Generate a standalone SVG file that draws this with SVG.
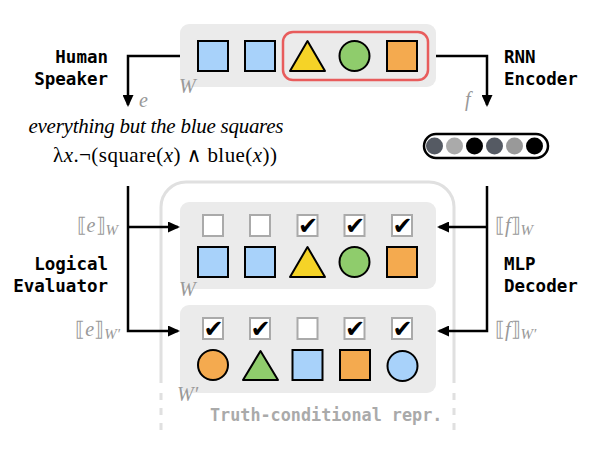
<svg xmlns="http://www.w3.org/2000/svg" width="598" height="460" viewBox="0 0 598 460">
<style>
.panel{fill:#ebebeb}
.sh{stroke:#000;stroke-width:2}
.blue{fill:#a8d2fa}.yellow{fill:#f5d327}.green{fill:#8fcc6c}.orange{fill:#f4aa4f}
.cb{fill:#fff;stroke:#aaa;stroke-width:2}
.chk{font-family:"DejaVu Sans",sans-serif;font-size:24px;fill:#000;text-anchor:middle}
.lbl{font-family:"DejaVu Sans Mono",monospace;font-weight:bold;font-size:17.5px;fill:#000}
.math{font-family:"Liberation Serif","DejaVu Serif",serif;fill:#999;font-size:20px}
.it{font-style:italic}
.conn{fill:none;stroke:#000;stroke-width:2.5}
</style>
<defs>
<marker id="arr" viewBox="0 0 12 11" markerWidth="12" markerHeight="11" refX="10" refY="5.5" orient="auto" markerUnits="userSpaceOnUse">
<path d="M0,0 L12,5.5 L0,11 z" fill="#000"/>
</marker>
</defs>

<g id="frame">
<path d="M161,383 V207 A25,25 0 0 1 186,182 H429 A25,25 0 0 1 454,207 V383" fill="none" stroke="#e0e0e0" stroke-width="3"/>
<path d="M161,393 V433 M454,393 V433" fill="none" stroke="#e0e0e0" stroke-width="3" stroke-dasharray="7 8"/>
<text x="210" y="421" font-family="DejaVu Sans Mono,monospace" font-weight="bold" font-size="16.8" fill="#aaa">Truth-conditional repr.</text>
</g>

<g id="world-top">
<rect class="panel" x="180" y="24" width="256" height="63" rx="9"/>
<rect x="198" y="41" width="30" height="30" class="sh blue"/>
<rect x="245" y="41" width="30" height="30" class="sh blue"/>
<rect x="283" y="32" width="145" height="48" rx="10" fill="none" stroke="#e85c5c" stroke-width="2.5"/>
<polygon points="307.5,41 290,71 325,71" class="sh yellow" stroke-linejoin="round"/>
<circle cx="354.5" cy="56" r="15" class="sh green"/>
<rect x="387" y="41" width="30" height="30" class="sh orange"/>
<text x="179" y="93" class="math it" font-size="21">W</text>
</g>

<g id="human-speaker">
<text class="lbl" text-anchor="end"><tspan x="108" y="63">Human</tspan><tspan x="108" y="85">Speaker</tspan></text>
</g>

<g id="rnn-encoder">
<text class="lbl"><tspan x="504" y="63">RNN</tspan><tspan x="504" y="85">Encoder</tspan></text>
</g>

<g id="utterance">
<text x="156" y="133" font-family="Liberation Serif,serif" font-style="italic" font-size="21" fill="#000" text-anchor="middle" textLength="255" lengthAdjust="spacing">everything but the blue squares</text>
<text x="165" y="162" font-family="Liberation Serif,serif" font-size="21" fill="#000" text-anchor="middle" textLength="224" lengthAdjust="spacing">λ<tspan font-style="italic">x</tspan>.¬(square(<tspan font-style="italic">x</tspan>) <tspan font-family="DejaVu Serif,serif" font-size="20">∧</tspan> blue(<tspan font-style="italic">x</tspan>))</text>
</g>

<g id="vector">
<rect x="424" y="134" width="124" height="24" rx="12" fill="#fff" stroke="#000" stroke-width="2.5"/>
<circle cx="434.5" cy="146" r="8.5" fill="#555a63"/>
<circle cx="454.5" cy="146" r="8.5" fill="#aaaaaa"/>
<circle cx="474.5" cy="146" r="8.5" fill="#000"/>
<circle cx="494.5" cy="146" r="8.5" fill="#555a63"/>
<circle cx="514.5" cy="146" r="8.5" fill="#999999"/>
<circle cx="534.5" cy="146" r="8.5" fill="#000"/>
</g>

<g id="world-W">
<rect class="panel" x="180" y="202" width="256" height="87" rx="9"/>
<rect class="cb" x="203" y="215" width="20" height="21"/>
<rect class="cb" x="250" y="215" width="20" height="21"/>
<rect class="cb" x="297.5" y="215" width="20" height="21"/>
<text class="chk" x="308" y="234">✔</text>
<rect class="cb" x="344.5" y="215" width="20" height="21"/>
<text class="chk" x="355" y="234">✔</text>
<rect class="cb" x="392" y="215" width="20" height="21"/>
<text class="chk" x="402.5" y="234">✔</text>
<rect x="198" y="247" width="30" height="30" class="sh blue"/>
<rect x="245" y="247" width="30" height="30" class="sh blue"/>
<polygon points="307.5,247 290,277 325,277" class="sh yellow" stroke-linejoin="round"/>
<circle cx="354.5" cy="262" r="15" class="sh green"/>
<rect x="387" y="247" width="30" height="30" class="sh orange"/>
<text x="179" y="296" class="math it" font-size="21">W</text>
</g>

<g id="world-W-prime">
<rect class="panel" x="180" y="305" width="256" height="88" rx="9"/>
<rect class="cb" x="203" y="318" width="20" height="21"/>
<text class="chk" x="213.5" y="337">✔</text>
<rect class="cb" x="250" y="318" width="20" height="21"/>
<text class="chk" x="260.5" y="337">✔</text>
<rect class="cb" x="297.5" y="318" width="20" height="21"/>
<rect class="cb" x="344.5" y="318" width="20" height="21"/>
<text class="chk" x="355" y="337">✔</text>
<rect class="cb" x="392" y="318" width="20" height="21"/>
<text class="chk" x="402.5" y="337">✔</text>
<circle cx="213" cy="365" r="15" class="sh orange"/>
<polygon points="260.5,351 243,380 278,380" class="sh green" stroke-linejoin="round"/>
<rect x="292.5" y="350" width="30" height="30" class="sh blue"/>
<rect x="340" y="350" width="30" height="30" class="sh orange"/>
<circle cx="402.5" cy="366" r="15" class="sh blue"/>
<text x="177" y="401" class="math it" font-size="21">W′</text>
</g>

<g id="logical-evaluator">
<text class="lbl" text-anchor="end"><tspan x="108" y="270">Logical</tspan><tspan x="108" y="292">Evaluator</tspan></text>
</g>

<g id="mlp-decoder">
<text class="lbl"><tspan x="504" y="270">MLP</tspan><tspan x="504" y="292">Decoder</tspan></text>
</g>

<g id="connectors">
<path class="conn" d="M180,56 H128 V105" marker-end="url(#arr)"/>
<path class="conn" d="M436,56 H487 V105" marker-end="url(#arr)"/>
<path class="conn" d="M128,186 V331 H178" marker-end="url(#arr)"/>
<path class="conn" d="M128,227 H178" marker-end="url(#arr)"/>
<path class="conn" d="M487,186 V331 H439" marker-end="url(#arr)"/>
<path class="conn" d="M487,227 H439" marker-end="url(#arr)"/>
<text x="139" y="107" class="math it">e</text>
<text x="465" y="106" class="math it">f</text>
<text x="118" y="232" class="math" text-anchor="end">⟦<tspan class="it">e</tspan>⟧<tspan class="it" font-size="15" dy="3">W</tspan></text>
<text x="120" y="336" class="math" text-anchor="end">⟦<tspan class="it">e</tspan>⟧<tspan class="it" font-size="15" dy="3">W′</tspan></text>
<text x="495" y="232" class="math">⟦<tspan class="it">f</tspan>⟧<tspan class="it" font-size="15" dy="3">W</tspan></text>
<text x="495" y="336" class="math">⟦<tspan class="it">f</tspan>⟧<tspan class="it" font-size="15" dy="3">W′</tspan></text>
</g>
</svg>
